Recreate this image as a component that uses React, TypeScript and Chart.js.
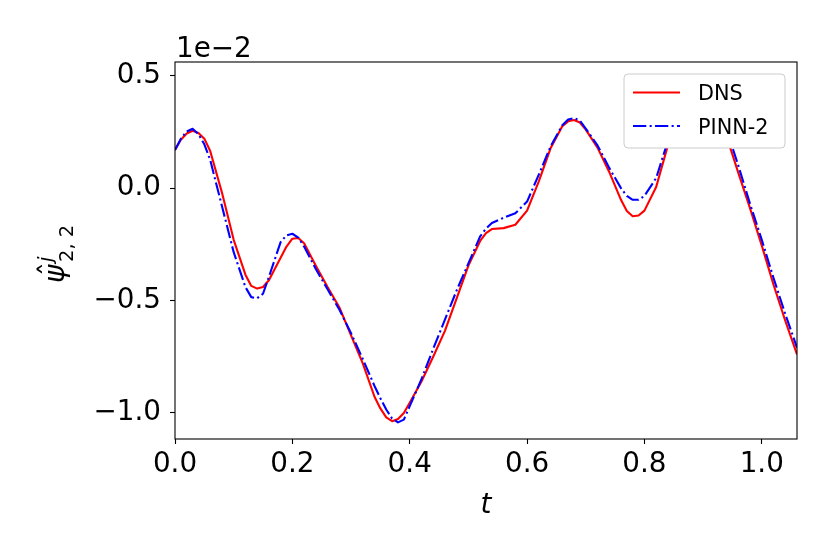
import React, { useEffect, useRef } from "react";
import { Chart, registerables } from "chart.js";

Chart.register(...registerables);

const tValues = [
  0.0, 0.01, 0.02, 0.03, 0.04, 0.05, 0.06,
  0.08, 0.1, 0.12,
  0.13, 0.14, 0.15, 0.16,
  0.18, 0.19, 0.2, 0.21, 0.22,
  0.24, 0.26, 0.28, 0.3, 0.32, 0.34,
  0.35, 0.36, 0.37, 0.38, 0.39, 0.4,
  0.42, 0.44, 0.46, 0.48, 0.5, 0.52,
  0.53, 0.54, 0.56, 0.58, 0.6,
  0.62, 0.64, 0.66, 0.67, 0.68, 0.69, 0.7,
  0.72, 0.74, 0.76, 0.77, 0.78, 0.79, 0.8,
  0.82, 0.84, 0.86, 0.88, 0.9, 0.92, 0.94,
  0.96, 0.98, 1.0, 1.02, 1.04, 1.06,
];

const dnsValues = [
  0.17, 0.215, 0.243, 0.255, 0.245, 0.22, 0.165,
  -0.02, -0.23, -0.385,
  -0.435, -0.447, -0.44, -0.41,
  -0.31, -0.26, -0.225, -0.222, -0.245,
  -0.345, -0.44, -0.53, -0.655, -0.78, -0.928,
  -0.98, -1.02, -1.037, -1.027, -1.0, -0.955,
  -0.86, -0.75, -0.635, -0.49, -0.345, -0.235,
  -0.2, -0.182, -0.178, -0.163, -0.1,
  0.03, 0.177, 0.275, 0.297, 0.303, 0.292, 0.26,
  0.18, 0.072, -0.052, -0.102, -0.125, -0.122, -0.1,
  0.005, 0.19, 0.34, 0.42, 0.44, 0.39, 0.23,
  0.068, -0.09, -0.256, -0.43, -0.59, -0.74,
];

const pinnValues = [
  0.17, 0.22, 0.252, 0.264, 0.24, 0.195, 0.125,
  -0.08, -0.285, -0.44,
  -0.485, -0.49, -0.47, -0.395,
  -0.24, -0.21, -0.203, -0.22, -0.26,
  -0.36, -0.45, -0.54, -0.645, -0.76, -0.88,
  -0.935, -0.985, -1.025, -1.042, -1.03, -0.97,
  -0.85, -0.715, -0.585, -0.455, -0.335, -0.215,
  -0.18, -0.155, -0.132, -0.112, -0.06,
  0.06, 0.185, 0.28, 0.305, 0.312, 0.3, 0.265,
  0.19, 0.09, 0.0, -0.035, -0.052, -0.052, -0.035,
  0.045, 0.21, 0.36, 0.44, 0.45, 0.4, 0.26,
  0.1, -0.07, -0.23, -0.4, -0.56, -0.71,
];

const seriesLabels = ["DNS", "PINN-2"];
const xTickValues = [0.0, 0.2, 0.4, 0.6, 0.8, 1.0];
const yTickValues = [-1.0, -0.5, 0.0, 0.5];
const offsetLabel = "1e\u22122";
const xAxisLabel = "t";

const FONT = "'DejaVu Sans', sans-serif";
const TICK_SIZE = 27.8;

const fmt = (v: number) => {
  const s = Math.abs(v).toFixed(1);
  return v < -1e-9 ? "\u2212" + s : s;
};

const decorPlugin = {
  id: "decor",
  afterDatasetsDraw(chart: any) {
    const { ctx, chartArea } = chart;
    const { left, right, top, bottom } = chartArea;
    ctx.save();
    // frame
    ctx.strokeStyle = "#000";
    ctx.lineWidth = 1.1;
    ctx.strokeRect(left, top, right - left, bottom - top);

    // legend
    const lx = 624, ly = 74, lw = 161, lh = 74, r = 4;
    ctx.beginPath();
    ctx.moveTo(lx + r, ly);
    ctx.lineTo(lx + lw - r, ly);
    ctx.arcTo(lx + lw, ly, lx + lw, ly + r, r);
    ctx.lineTo(lx + lw, ly + lh - r);
    ctx.arcTo(lx + lw, ly + lh, lx + lw - r, ly + lh, r);
    ctx.lineTo(lx + r, ly + lh);
    ctx.arcTo(lx, ly + lh, lx, ly + lh - r, r);
    ctx.lineTo(lx, ly + r);
    ctx.arcTo(lx, ly, lx + r, ly, r);
    ctx.closePath();
    ctx.fillStyle = "#ffffff";
    ctx.fill();
    ctx.strokeStyle = "#cccccc";
    ctx.lineWidth = 1;
    ctx.stroke();

    const rows = [92.5, 126];
    const ds = chart.data.datasets;
    seriesLabels.forEach((lab, i) => {
      const d = ds[i];
      ctx.beginPath();
      ctx.setLineDash(d.borderDash || []);
      ctx.strokeStyle = d.borderColor;
      ctx.lineWidth = d.borderWidth;
      ctx.moveTo(633, rows[i]);
      ctx.lineTo(680, rows[i]);
      ctx.stroke();
      ctx.setLineDash([]);
      ctx.fillStyle = "#000";
      ctx.font = `20.8px ${FONT}`;
      ctx.textAlign = "left";
      ctx.textBaseline = "alphabetic";
      ctx.fillText(lab, 698, rows[i] + 7.8);
    });

    // offset text
    ctx.fillStyle = "#000";
    ctx.font = `${TICK_SIZE}px ${FONT}`;
    ctx.textAlign = "left";
    ctx.textBaseline = "alphabetic";
    ctx.fillText(offsetLabel, 176, 57);

    // x label
    ctx.font = `italic ${TICK_SIZE}px ${FONT}`;
    ctx.textAlign = "center";
    ctx.fillText(xAxisLabel, 486, 513);

    // y label (rotated)
    ctx.save();
    ctx.rotate(-Math.PI / 2);
    ctx.textAlign = "left";
    ctx.font = `italic ${TICK_SIZE}px ${FONT}`;
    ctx.fillText("\u03c8", -283, 64);
    ctx.font = `${TICK_SIZE}px ${FONT}`;
    ctx.textAlign = "center";
    ctx.fillText("\u02c6", -269, 60);
    ctx.textAlign = "left";
    ctx.font = `italic 19.5px ${FONT}`;
    ctx.fillText("j", -262, 52);
    ctx.font = `19.5px ${FONT}`;
    ctx.fillText("2, 2", -262, 73);
    ctx.restore();

    ctx.restore();
  },
};

export default function App() {
  const ref = useRef<HTMLCanvasElement | null>(null);
  useEffect(() => {
    if (!ref.current) return;
    const chart = new Chart(ref.current, {
      type: "line",
      data: {
        datasets: [
          {
            label: seriesLabels[0],
            data: tValues.map((t, i) => ({ x: t, y: dnsValues[i] })),
            borderColor: "#ff0000",
            borderWidth: 2.1,
            pointRadius: 0,
            tension: 0,
            borderJoinStyle: "round",
            order: 2,
          },
          {
            label: seriesLabels[1],
            data: tValues.map((t, i) => ({ x: t, y: pinnValues[i] })),
            borderColor: "#0000ff",
            borderWidth: 2.1,
            borderDash: [13.3, 3.3, 2.1, 3.3],
            pointRadius: 0,
            tension: 0,
            borderJoinStyle: "round",
            order: 1,
          },
        ],
      },
      options: {
        animation: false,
        responsive: false,
        devicePixelRatio: 1,
        layout: { padding: { left: 0, top: 62, right: 33, bottom: 0 } },
        plugins: {
          legend: { display: false },
          tooltip: { enabled: false },
        },
        scales: {
          x: {
            type: "linear",
            min: 0,
            max: 1.06,
            afterBuildTicks: (s: any) => {
              s.ticks = xTickValues.map((v) => ({ value: v }));
            },
            afterFit: (s: any) => {
              s.height = 115;
            },
            grid: {
              drawOnChartArea: false,
              drawTicks: true,
              tickLength: 5,
              tickColor: "#000",
              tickWidth: 1.1,
            },
            border: { display: false },
            ticks: {
              autoSkip: false,
              maxRotation: 0,
              color: "#000",
              padding: 4,
              font: { family: FONT, size: TICK_SIZE },
              callback: (v: any) => fmt(Number(v)),
            },
          },
          y: {
            type: "linear",
            min: -1.116,
            max: 0.561,
            afterBuildTicks: (s: any) => {
              s.ticks = yTickValues.map((v) => ({ value: v }));
            },
            afterFit: (s: any) => {
              s.width = 175;
            },
            grid: {
              drawOnChartArea: false,
              drawTicks: true,
              tickLength: 5,
              tickColor: "#000",
              tickWidth: 1.1,
            },
            border: { display: false },
            ticks: {
              autoSkip: false,
              color: "#000",
              padding: 9,
              font: { family: FONT, size: TICK_SIZE },
              callback: (v: any) => fmt(Number(v)),
            },
          },
        },
      },
      plugins: [decorPlugin],
    } as any);
    return () => chart.destroy();
  }, []);

  return (
    <div style={{ position: "absolute", left: 0, top: 0, width: 830, height: 554, background: "#fff" }}>
      <canvas ref={ref} width={830} height={554} />
    </div>
  );
}
